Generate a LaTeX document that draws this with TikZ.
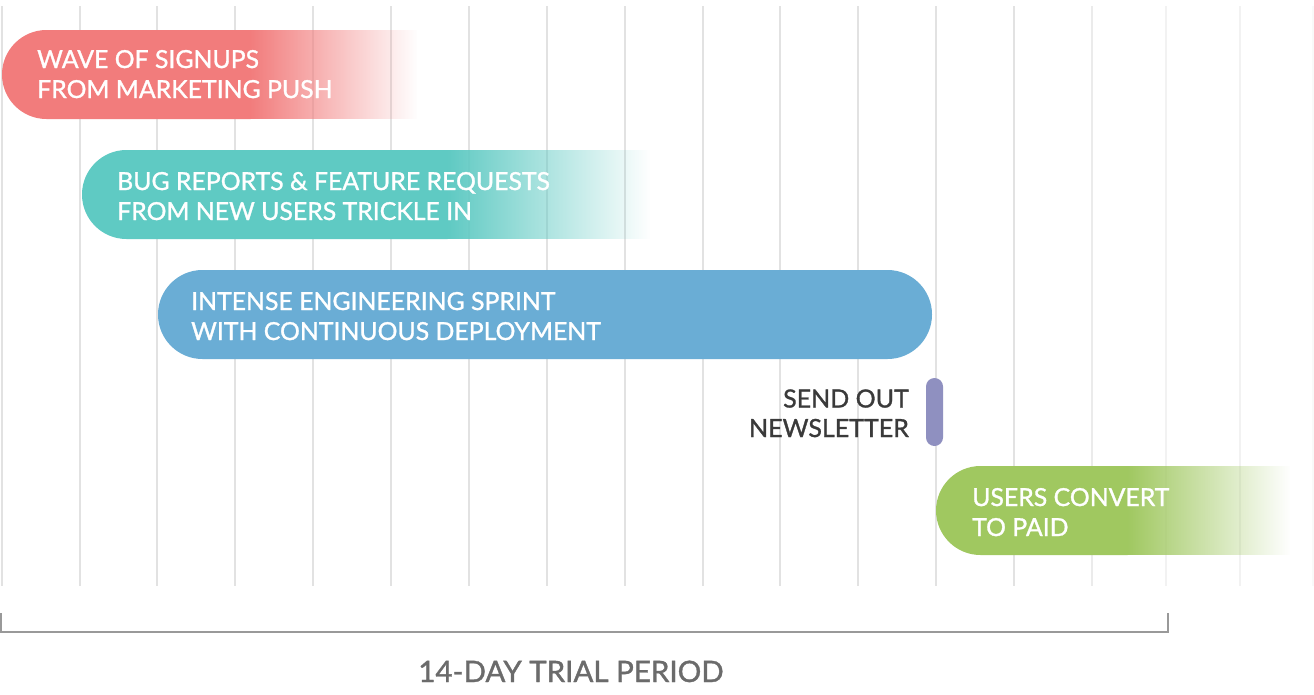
\documentclass[tikz,border=0pt]{standalone}
\usepackage{fontspec}
\setmainfont{Lato}
\newfontfamily\medfont{Lato}[FakeBold=1.2]
\usetikzlibrary{fadings}
\definecolor{cred}{HTML}{F27C7C}
\definecolor{cteal}{HTML}{5FCAC3}
\definecolor{cblue}{HTML}{6AADD5}
\definecolor{cpurple}{HTML}{8F90C0}
\definecolor{cgreen}{HTML}{A0C860}
\definecolor{ctext}{HTML}{3A3A3A}
\definecolor{ctitle}{HTML}{6B6B6B}
\definecolor{cbracket}{HTML}{999999}
\definecolor{cgrid}{HTML}{E2E2E2}
\tikzfading[name=fadeR, left color=transparent!0, middle color=transparent!72, right color=transparent!100]
\tikzset{
  gridline/.style={line width=2pt, cgrid},
  bartext/.style={anchor=base west, inner sep=0pt, align=left, text=white,
    font=\medfont\fontsize{24.8}{30}\selectfont},
  notetext/.style={anchor=base east, inner sep=0pt, align=right, text=ctext,
    font=\medfont\fontsize{25}{29.5}\selectfont},
  titletext/.style={anchor=base, inner sep=0pt, text=ctitle,
    font=\medfont\fontsize{29.5}{32}\selectfont},
}
\begin{document}
\begin{tikzpicture}[x=1pt,y=-1pt]
\useasboundingbox (0,0) rectangle (1314,694);
\fill[white] (0,0) rectangle (1314,694);
% grid
\foreach \gx in {2,80,157,235,313,391,469,547,625,703,780,858,936,1014}
  \draw[gridline] (\gx,6) -- (\gx,586);
\draw[gridline, cgrid!70!white] (1092,6) -- (1092,586);
\draw[gridline, cgrid!45!white] (1166,6) -- (1166,586);
\draw[gridline, cgrid!45!white] (1240,6) -- (1240,586);
\draw[gridline, cgrid!20!white] (1313,6) -- (1313,586);
% red bar
\begin{scope}
  \clip (0,29) rectangle (250.5,120);
  \fill[cred, rounded corners=44.5pt] (2,30) rectangle (400,119);
\end{scope}
\fill[cred, path fading=fadeR] (250,30) rectangle (417,119);
\node[bartext] (t1) at (37,98) {WAVE OF SIGNUPS\\FROM MARKETING PUSH};
% teal bar
\begin{scope}
  \clip (80,149) rectangle (447.5,240);
  \fill[cteal, rounded corners=44.5pt] (82,150) rectangle (600,239);
\end{scope}
\fill[cteal, path fading=fadeR] (447,150) rectangle (650,239);
\node[bartext] (t2) at (117,220) {BUG REPORTS \& FEATURE REQUESTS\\FROM NEW USERS TRICKLE IN};
% blue bar
\fill[cblue, rounded corners=44.5pt] (158,270) rectangle (932,359);
\node[bartext] (t3) at (191,340) {INTENSE ENGINEERING SPRINT\\WITH CONTINUOUS DEPLOYMENT};
% newsletter
\fill[cpurple, rounded corners=8.5pt] (926,378) rectangle (943,446);
\node[notetext] (t4) at (909,437) {SEND OUT\\NEWSLETTER};
% green bar
\begin{scope}
  \clip (934,465) rectangle (1127.5,556);
  \fill[cgreen, rounded corners=44.5pt] (936,466) rectangle (1300,555);
\end{scope}
\fill[cgreen, path fading=fadeR] (1127,466) rectangle (1290,555);
\node[bartext] (t5) at (972,536) {USERS CONVERT\\TO PAID};
% bracket
\coordinate (bl) at (1,613);
\coordinate (br) at (1168,613);
\draw[cbracket, line width=2pt] (bl) |- (1168,632) -- (br);
\node[titletext] (title) at (571,682) {14-DAY TRIAL PERIOD};
\end{tikzpicture}
\end{document}
